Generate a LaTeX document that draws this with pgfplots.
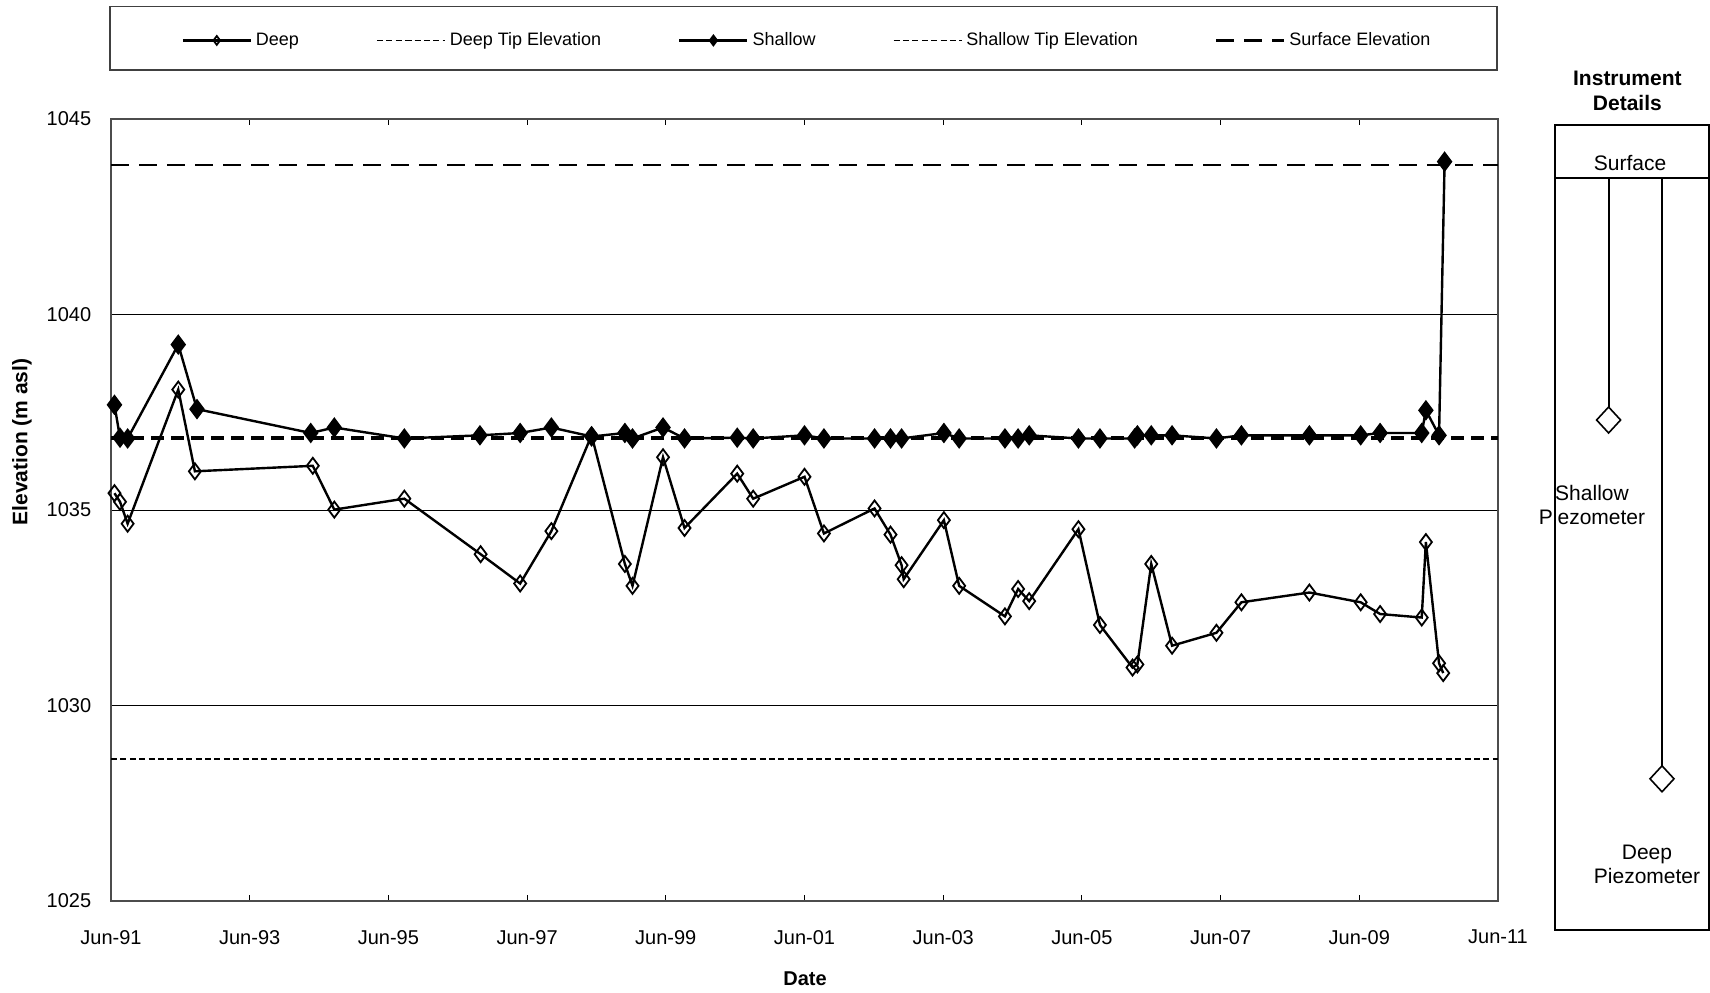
\documentclass[border=0pt]{standalone}
\usepackage{fontspec}
\setmainfont{Liberation Sans}
\usepackage{pgfplots}
\pgfplotsset{compat=1.18}

\begin{document}
\begin{tikzpicture}[x=1pt,y=1pt]
\useasboundingbox (0,0) rectangle (855,-496);

% legend frame
\draw[black!75, line width=0.8pt] (55,-3.25) rectangle (748.5,-35);

\begin{axis}[
    at={(55.5pt,-450.5pt)}, anchor=south west,
    scale only axis,
    width=693.5pt, height=391pt,
    xmin=1991.5, xmax=2011.5,
    ymin=1025, ymax=1045,
    xtick={1991.5,1993.5,1995.5,1997.5,1999.5,2001.5,2003.5,2005.5,2007.5,2009.5,2011.5},
    xticklabels={Jun-91,Jun-93,Jun-95,Jun-97,Jun-99,Jun-01,Jun-03,Jun-05,Jun-07,Jun-09,Jun-11},
    ytick={1025,1030,1035,1040,1045},
    scaled x ticks=false, scaled y ticks=false,
    /pgf/number format/1000 sep={},
    /pgf/number format/assume math mode=true,
    tick label style={font=\fontsize{10}{12}\selectfont},
    xticklabel shift=11pt,
    yticklabel shift=6.4pt,
    tick align=inside,
    major tick length=3pt,
    xtick style={black, line width=0.5pt},
    ytick style={draw=none},
    ymajorgrids,
    major grid style={black, line width=0.5pt},
    axis line style={black!70, line width=1pt},
    legend columns=5,
    legend style={at={(0.5025,1.1005)}, anchor=center, draw=none, fill=none,
        font=\fontsize{9}{11}\selectfont,
        /tikz/every even column/.append style={column sep=36.5pt}},
    legend image code/.code={\draw[mark repeat=2,mark phase=2,#1]
        plot coordinates {(0pt,0pt) (17pt,0pt) (34pt,0pt)};},
    legend image post style={mark size=2.2pt},
]

% Deep piezometer
\addplot[black, line width=1.2pt, mark=diamond, mark size=4pt,
    mark options={solid, line width=0.9pt}] coordinates {
(1991.55,1035.43) (1991.63,1035.21) (1991.74,1034.65) (1992.47,1038.08)
(1992.71,1035.99) (1994.41,1036.13) (1994.72,1035.01) (1995.73,1035.29)
(1996.83,1033.87) (1997.40,1033.12) (1997.85,1034.46) (1998.43,1036.91)
(1998.91,1033.62) (1999.02,1033.06) (1999.46,1036.35) (1999.77,1034.54)
(2000.53,1035.93) (2000.76,1035.29) (2001.50,1035.85) (2001.78,1034.40)
(2002.51,1035.04) (2002.74,1034.37) (2002.90,1033.59) (2002.93,1033.23)
(2003.51,1034.74) (2003.73,1033.06) (2004.39,1032.28) (2004.58,1032.98)
(2004.74,1032.67) (2005.45,1034.51) (2005.76,1032.06) (2006.23,1030.97)
(2006.30,1031.05) (2006.50,1033.62) (2006.80,1031.53) (2007.44,1031.86)
(2007.80,1032.64) (2008.78,1032.89) (2009.52,1032.64) (2009.80,1032.34)
(2010.40,1032.25) (2010.46,1034.18) (2010.65,1031.08) (2010.71,1030.83)
};
\addlegendentry{Deep}

% Deep tip elevation
\addplot[black, line width=0.9pt, dash pattern=on 3pt off 1.7pt] coordinates {
(1991.5,1028.63) (2011.5,1028.63)};
\addlegendentry{Deep Tip Elevation}

% Shallow piezometer
\addplot[black, line width=1.2pt, mark=diamond*, mark size=4.2pt,
    mark options={solid}] coordinates {
(1991.55,1037.69) (1991.63,1036.85) (1991.74,1036.83) (1992.47,1039.23)
(1992.74,1037.58) (1994.38,1036.97) (1994.72,1037.11) (1995.73,1036.83)
(1996.82,1036.91) (1997.40,1036.97) (1997.85,1037.11) (1998.43,1036.88)
(1998.91,1036.97) (1999.02,1036.83) (1999.46,1037.11) (1999.77,1036.83)
(2000.53,1036.85) (2000.76,1036.83) (2001.50,1036.91) (2001.78,1036.83)
(2002.51,1036.83) (2002.74,1036.83) (2002.90,1036.83) (2003.51,1036.97)
(2003.73,1036.83) (2004.39,1036.83) (2004.58,1036.83) (2004.74,1036.91)
(2005.45,1036.83) (2005.76,1036.83) (2006.26,1036.83) (2006.30,1036.91)
(2006.50,1036.91) (2006.80,1036.91) (2007.44,1036.83) (2007.80,1036.91)
(2008.78,1036.91) (2009.52,1036.91) (2009.80,1036.97) (2010.40,1036.97)
(2010.46,1037.55) (2010.65,1036.91) (2010.73,1043.91)
};
\addlegendentry{Shallow}

% Shallow tip elevation
\addplot[black, line width=2pt, dash pattern=on 6.5pt off 3.5pt,
    legend image code/.code={\draw[black, line width=0.9pt, dash pattern=on 3pt off 1.7pt]
        (0pt,0pt) -- (34pt,0pt);}] coordinates {
(1991.5,1036.85) (2011.5,1036.85)};
\addlegendentry{Shallow Tip Elevation}

% Surface elevation
\addplot[black, line width=1.2pt, dash pattern=on 9pt off 5pt] coordinates {
(1991.5,1043.83) (2011.5,1043.83)};
\addlegendentry{Surface Elevation}
\end{axis}

% axis titles
\node[rotate=90, font=\bfseries\fontsize{10.5}{12}\selectfont] at (11,-221) {Elevation (m asl)};
\node[font=\bfseries\fontsize{10}{12}\selectfont] at (402.5,-489.5) {Date};

% instrument details panel
\node[font=\bfseries\fontsize{10.5}{12.5}\selectfont, align=center] at (813.7,-45.5) {Instrument\\Details};
\draw[black, line width=1pt] (777.5,-62.7) rectangle (854.5,-465);
\draw[black, line width=1pt] (777.5,-88.9) -- (854.5,-88.9);
\node[font=\fontsize{10.5}{12}\selectfont] at (815,-81.3) {Surface};
\draw[black, line width=1pt] (804.3,-88.9) -- (804.3,-203.5);
\draw[black, line width=0.8pt, fill=white] (804.3,-203.5) -- (810.3,-210) -- (804.3,-216.5) -- (798.3,-210) -- cycle;
\draw[black, line width=1pt] (831,-88.9) -- (831,-382.9);
\draw[black, line width=0.8pt, fill=white] (831,-382.9) -- (837,-389.4) -- (831,-395.9) -- (825,-389.4) -- cycle;
\node[font=\fontsize{10.5}{12}\selectfont, align=center] at (796,-252.5) {Shallow\\Piezometer};
\node[font=\fontsize{10.5}{12}\selectfont, align=center] at (823.5,-432) {Deep\\Piezometer};
\end{tikzpicture}
\end{document}
